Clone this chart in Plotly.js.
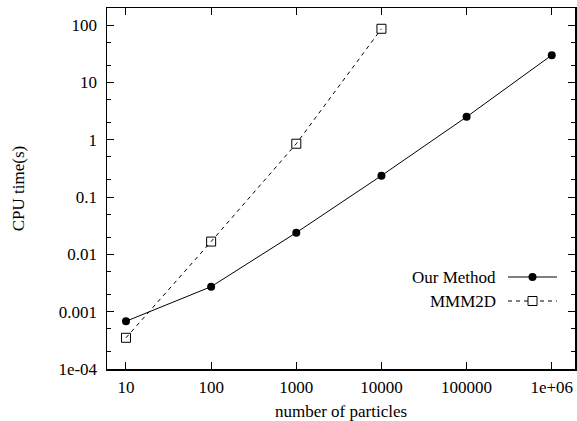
<!DOCTYPE html>
<html>
<head>
<meta charset="utf-8">
<script src="https://cdn.plot.ly/plotly-3.0.1.min.js"></script>
<style>html,body{margin:0;padding:0;background:#fff;}#chart{width:577px;height:421px;}</style>
</head>
<body>
<div id="chart"></div>
<script>
const particles = [10, 100, 1000, 10000, 100000, 1000000];
const ourMethod = [0.00068, 0.00273, 0.0239, 0.236, 2.5, 29.8];
const mmm2dParticles = [10, 100, 1000, 10000];
const mmm2d = [0.00035, 0.0167, 0.85, 86];
const xTickVals = [10, 100, 1000, 10000, 100000, 1000000];
const xTickText = ['10', '100', '1000', '10000', '100000', '1e+06'];
const yTickVals = [1e-4, 1e-3, 1e-2, 0.1, 1, 10, 100];
const yTickText = ['1e-04', '0.001', '0.01', '0.1', '1', '10', '100'];
const seriesNames = ['Our Method', 'MMM2D'];

const FONT = '"Liberation Serif", "Times New Roman", serif';
const FS = 17;
const W = 577, H = 421;
const M = {l: 107, r: 2, t: 8, b: 52};
const pw = W - M.l - M.r, ph = H - M.t - M.b;
const px = v => (v - M.l) / pw;
const py = v => (H - M.b - v) / ph;

const traces = [
  {x: particles, y: ourMethod, name: seriesNames[0], mode: 'lines+markers',
   line: {color: '#000', width: 1}, marker: {symbol: 'circle', size: 8, color: '#000'}},
  {x: mmm2dParticles, y: mmm2d, name: seriesNames[1], mode: 'lines+markers',
   line: {color: '#000', width: 1, dash: '4px,4px'},
   marker: {symbol: 'square-open', size: 9, color: '#000', line: {width: 1, color: '#000'}}}
];

const legX1 = 498, lineX0 = 508, lineX1 = 557, rowY = [277, 301];
const mx = (lineX0 + lineX1) / 2;
const annotations = seriesNames.map((n, i) => ({
  text: n, xref: 'paper', yref: 'paper', x: px(legX1), y: py(rowY[i]),
  xanchor: 'right', yanchor: 'middle', showarrow: false,
  font: {family: FONT, size: FS, color: '#000'}
}));
const shapes = [
  {type: 'line', xref: 'paper', yref: 'paper', x0: px(lineX0), x1: px(lineX1), y0: py(rowY[0]), y1: py(rowY[0]),
   line: {color: '#000', width: 1}},
  {type: 'circle', xref: 'paper', yref: 'paper', xsizemode: 'pixel', ysizemode: 'pixel',
   xanchor: px(mx), yanchor: py(rowY[0]), x0: -4, x1: 4, y0: -4, y1: 4,
   fillcolor: '#000', line: {color: '#000', width: 0}},
  {type: 'line', xref: 'paper', yref: 'paper', x0: px(lineX0), x1: px(lineX1), y0: py(rowY[1]), y1: py(rowY[1]),
   line: {color: '#000', width: 1, dash: '4px,4px'}},
  {type: 'rect', xref: 'paper', yref: 'paper', xsizemode: 'pixel', ysizemode: 'pixel',
   xanchor: px(mx), yanchor: py(rowY[1]), x0: -4.5, x1: 4.5, y0: -4.5, y1: 4.5,
   fillcolor: '#fff', line: {color: '#000', width: 1}}
];

const layout = {
  width: W, height: H, margin: M, showlegend: false,
  paper_bgcolor: '#fff', plot_bgcolor: '#fff',
  font: {family: FONT, size: FS, color: '#000'},
  xaxis: {type: 'log', range: [0.777, 6.273], tickvals: xTickVals, ticktext: xTickText,
    ticks: 'inside', ticklen: 7, tickwidth: 1, tickcolor: '#000', ticklabelstandoff: 2,
    showline: true, linecolor: '#000', linewidth: 1.5, mirror: 'ticks',
    showgrid: false, zeroline: false,
    title: {text: 'number of particles', font: {family: FONT, size: FS}, standoff: 12}},
  yaxis: {type: 'log', range: [-4, 2.297], tickvals: yTickVals, ticktext: yTickText,
    ticks: 'inside', ticklen: 7, tickwidth: 1, tickcolor: '#000', ticklabelstandoff: 5,
    minor: {dtick: 'D2', ticks: 'inside', ticklen: 4, tickwidth: 1, tickcolor: '#000', showgrid: false},
    showline: true, linecolor: '#000', linewidth: 1.5, mirror: 'ticks',
    showgrid: false, zeroline: false,
    title: {text: 'CPU time(s)', font: {family: FONT, size: FS}, standoff: 29}},
  annotations: annotations, shapes: shapes
};

Plotly.newPlot('chart', traces, layout, {staticPlot: true, displayModeBar: false});
</script>
</body>
</html>
